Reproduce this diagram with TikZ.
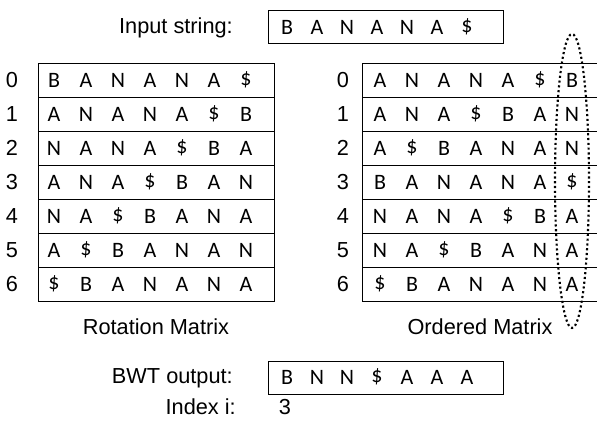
\documentclass[tikz,border=0pt]{standalone}
\usepackage{fontspec}
\setmainfont{Liberation Sans}
\newfontfamily\letterfont{Carlito}
\begin{document}
\begin{tikzpicture}[x=0.75pt,y=-0.75pt,
  lbl/.style={font=\fontsize{16.3}{19}\selectfont, inner sep=0pt},
  ltr/.style={font=\letterfont\fontsize{16.5}{19}\selectfont, inner sep=0pt},
  rowbox/.style={draw, line width=1pt, minimum width=236*0.75pt, minimum height=34*0.75pt, inner sep=0pt, anchor=north west},
  strbox/.style={draw, line width=1pt, minimum width=235*0.75pt, minimum height=33*0.75pt, inner sep=0pt, anchor=north west},
  ell/.style={dotted, line width=1.6pt}]
\useasboundingbox (0,0) rectangle (597,422);
\clip (0,0) rectangle (597,422);
% input string
\node[lbl, anchor=east] (inlbl) at (233,28) {Input string:};
\node[strbox] (inbox) at (268,10) {};
\foreach \c [count=\j from 0] in {B,A,N,A,N,A,\$}
  \node[ltr] (in\j) at (287+30*\j,27) {\c};
% rotation matrix
\foreach \w [count=\i from 0] in {{B,A,N,A,N,A,\$},{A,N,A,N,A,\$,B},{N,A,N,A,\$,B,A},{A,N,A,\$,B,A,N},{N,A,\$,B,A,N,A},{A,\$,B,A,N,A,N},{\$,B,A,N,A,N,A}}{
  \node[rowbox] (r\i) at (38,63+34*\i) {};
  \node[lbl] (rn\i) at (12,80+34*\i) {\i};
  \foreach \c [count=\j from 0] in \w
    \node[ltr] (r\i c\j) at (54+32*\j,80+34*\i) {\c};
}
% ordered matrix
\foreach \w [count=\i from 0] in {{A,N,A,N,A,\$,B},{A,N,A,\$,B,A,N},{A,\$,B,A,N,A,N},{B,A,N,A,N,A,\$},{N,A,N,A,\$,B,A},{N,A,\$,B,A,N,A},{\$,B,A,N,A,N,A}}{
  \node[rowbox] (o\i) at (362,63+34*\i) {};
  \node[lbl] (on\i) at (343,80+34*\i) {\i};
  \foreach \c [count=\j from 0] in \w
    \node[ltr] (o\i c\j) at (380+32*\j,80+34*\i) {\c};
}
\node[lbl] (rotlbl) at (156,327) {Rotation Matrix};
\node[lbl] (ordlbl) at (480,327) {Ordered Matrix};
% ellipse around last column
\draw[ell] (572,181) ellipse [x radius=17, y radius=147];
% BWT output
\node[lbl, anchor=east] (bwtlbl) at (233,378) {BWT output:};
\node[strbox] (bwtbox) at (268,361) {};
\foreach \c [count=\j from 0] in {B,N,N,\$,A,A,A}
  \node[ltr] (b\j) at (287+30*\j,377) {\c};
\node[lbl, anchor=east] (idxlbl) at (236,407) {Index i:};
\node[lbl] (idx) at (285,407) {3};
\end{tikzpicture}
\end{document}
